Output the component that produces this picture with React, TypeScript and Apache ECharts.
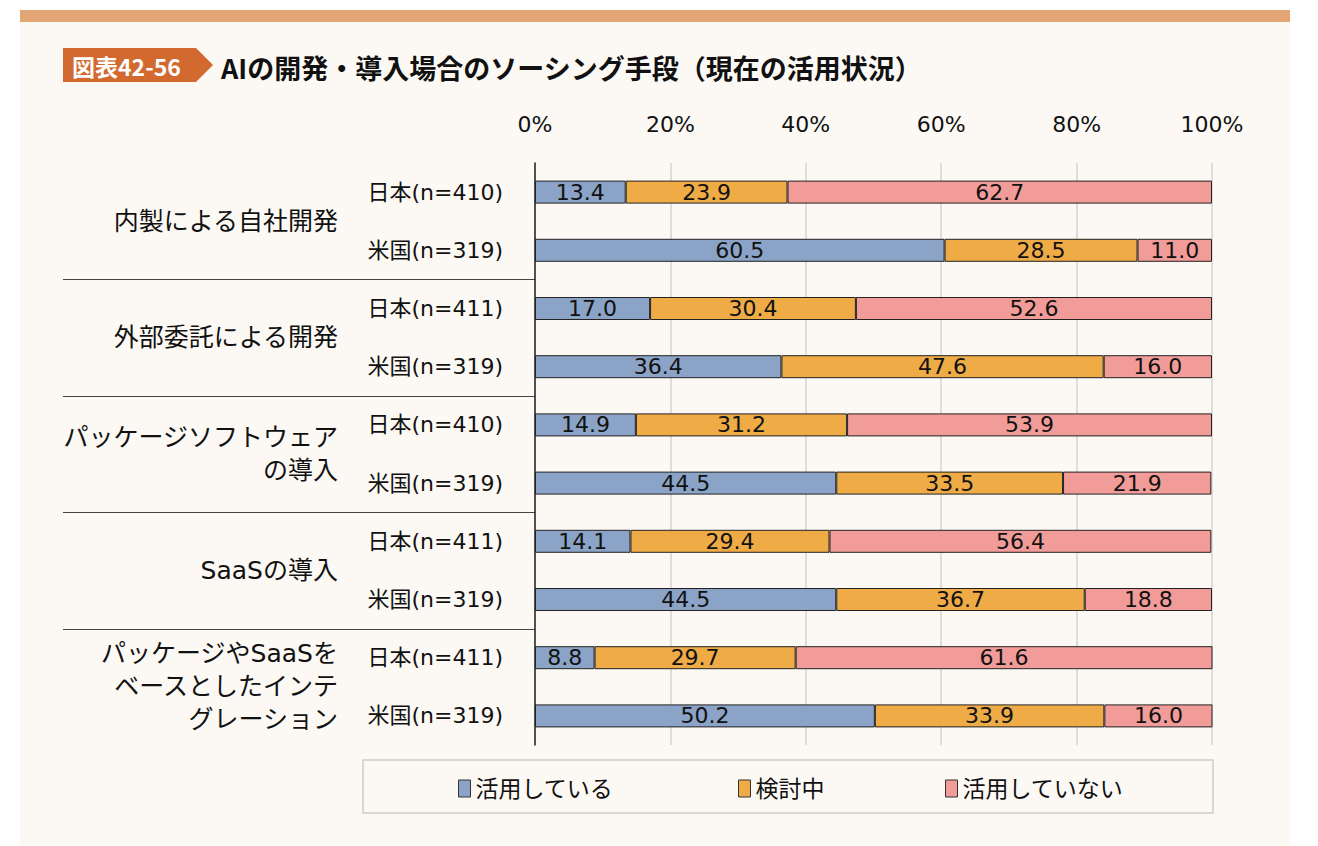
import React, { useEffect, useRef } from 'react';
import * as echarts from 'echarts';

const rowLabels = [
  '日本(n=410)', '米国(n=319)',
  '日本(n=411)', '米国(n=319)',
  '日本(n=410)', '米国(n=319)',
  '日本(n=411)', '米国(n=319)',
  '日本(n=411)', '米国(n=319)',
];
const groupLabels = [
  '内製による自社開発',
  '外部委託による開発',
  'パッケージソフトウェア\nの導入',
  'SaaSの導入',
  'パッケージやSaaSを\nベースとしたインテ\nグレーション',
];
const legendNames = ['活用している', '検討中', '活用していない'];
const usedValues = [13.4, 60.5, 17.0, 36.4, 14.9, 44.5, 14.1, 44.5, 8.8, 50.2];
const consideringValues = [23.9, 28.5, 30.4, 47.6, 31.2, 33.5, 29.4, 36.7, 29.7, 33.9];
const notUsedValues = [62.7, 11.0, 52.6, 16.0, 53.9, 21.9, 56.4, 18.8, 61.6, 16.0];

const FONT = "'DejaVu Sans', 'Noto Sans CJK JP', sans-serif";
const COLORS = ['#8aa3c6', '#eeab46', '#f29c99'];
const TITLE = 'AIの開発・導入場合のソーシング手段（現在の活用状況）';
const BADGE = '図表42-56';

export default function App() {
  const ref = useRef<HTMLDivElement>(null);

  useEffect(() => {
    if (!ref.current) return;
    const chart = echarts.init(ref.current, undefined, { renderer: 'svg' });
    const seriesData = [usedValues, consideringValues, notUsedValues];
    const legendLeft = [453, 733, 940];

    chart.setOption({
      animation: false,
      grid: { left: 535, right: 106, top: 163, bottom: 101, containLabel: false },
      xAxis: {
        type: 'value',
        position: 'top',
        min: 0,
        max: 100,
        interval: 20,
        axisLine: { show: false },
        axisTick: { show: false },
        axisLabel: { formatter: '{value}%', fontSize: 22, color: '#111', fontFamily: FONT, margin: 28 },
        splitLine: { show: true, lineStyle: { color: '#d6d3cf', width: 1.5 } },
      },
      yAxis: {
        type: 'category',
        inverse: true,
        data: rowLabels.map((_, i) => String(i)),
        axisLine: { show: true, lineStyle: { color: '#222', width: 1.5 } },
        axisTick: { show: false },
        axisLabel: {
          formatter: (v: string) => rowLabels[Number(v)],
          fontSize: 22,
          color: '#111',
          fontFamily: FONT,
          margin: 32,
        },
      },
      legend: legendNames.map((n, i) => ({
        data: [n],
        left: legendLeft[i],
        top: 772,
        icon: 'rect',
        itemWidth: 12,
        itemHeight: 17,
        itemGap: 0,
        textStyle: { fontSize: 23, color: '#111', fontFamily: FONT },
        itemStyle: { borderColor: '#333', borderWidth: 1 },
      })),
      series: seriesData.map((d, i) => ({
        name: legendNames[i],
        type: 'bar',
        stack: 'total',
        data: d,
        barWidth: 23,
        itemStyle: { color: COLORS[i], borderColor: '#222', borderWidth: 1 },
        label: {
          show: true,
          position: 'inside',
          formatter: (p: any) => Number(p.value).toFixed(1),
          color: '#111',
          fontSize: 22,
          fontFamily: FONT,
        },
      })),
    });

    const yPix = (i: number) => chart.convertToPixel({ yAxisIndex: 0 }, i) as number;
    const axisX = chart.convertToPixel({ xAxisIndex: 0 }, 0) as number;
    const graphics: any[] = [
      {
        type: 'polygon',
        shape: { points: [[63, 48], [196, 48], [213, 65], [196, 82], [63, 82]] },
        style: { fill: '#d2692e' },
      },
      {
        type: 'text',
        x: 72,
        y: 66,
        style: { text: BADGE, fill: '#fff', fontSize: 23, fontWeight: 'bold', fontFamily: "'Noto Sans CJK JP', sans-serif", verticalAlign: 'middle' },
      },
      {
        type: 'text',
        x: 221,
        y: 67,
        style: { text: TITLE, fill: '#111', fontSize: 27, fontWeight: 'bold', fontFamily: "'Noto Sans CJK JP', sans-serif", verticalAlign: 'middle' },
      },
      {
        type: 'rect',
        shape: { x: 363, y: 760, width: 850, height: 53 },
        style: { fill: 'none', stroke: '#cfcbc6', lineWidth: 1.5 },
        z: -1,
      },
    ];
    groupLabels.forEach((g, k) => {
      const cy = (yPix(2 * k) + yPix(2 * k + 1)) / 2;
      graphics.push({
        type: 'text',
        x: 338,
        y: cy,
        style: {
          text: g,
          fill: '#111',
          fontSize: 25,
          lineHeight: 33,
          fontFamily: FONT,
          align: 'right',
          verticalAlign: 'middle',
        },
      });
      if (k < groupLabels.length - 1) {
        const sy = Math.round((yPix(2 * k + 1) + yPix(2 * k + 2)) / 2) + 0.5;
        graphics.push({
          type: 'line',
          shape: { x1: 63, y1: sy, x2: axisX, y2: sy },
          style: { stroke: '#444', lineWidth: 1.2 },
        });
      }
    });
    chart.setOption({ graphic: graphics });

    return () => chart.dispose();
  }, []);

  return (
    <div style={{ position: 'absolute', left: 0, top: 0, width: 1318, height: 846, background: '#fff' }}>
      <div style={{ position: 'absolute', left: 20, top: 10, width: 1270, height: 836, background: '#fcf9f5' }} />
      <div style={{ position: 'absolute', left: 20, top: 10, width: 1270, height: 12, background: '#e4a574' }} />
      <div ref={ref} style={{ position: 'absolute', left: 0, top: 0, width: 1318, height: 846 }} />
    </div>
  );
}
